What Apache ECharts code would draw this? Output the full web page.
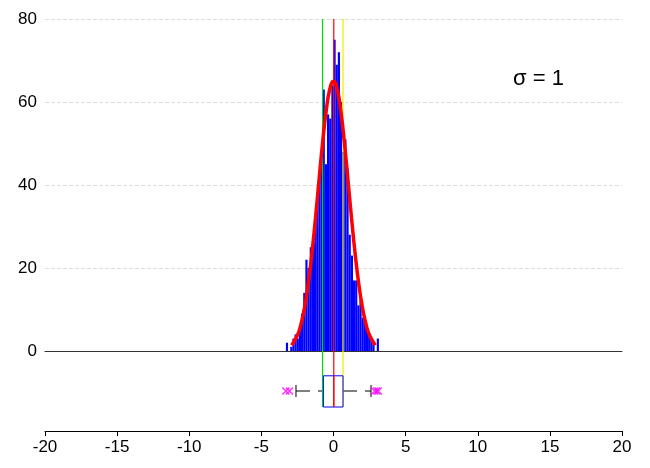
<!DOCTYPE html>
<html><head><meta charset="utf-8">
<script src="https://cdn.jsdelivr.net/npm/echarts@6/dist/echarts.min.js"></script>
<style>html,body{margin:0;background:#fff}#c{width:650px;height:468px}</style></head>
<body><div id="c"></div>
<script>
var binStart = -3.3, binWidth = 0.15;
var counts = [2,0,1,3,4,3,6,9,14,22,20,25,26,31,36,42,48,63,45,57,56,64,75,69,72,60,48,51,44,28,23,17,17,11,13,8,7,5,4,3,2,0,3];
var curveX = [-2.9,-2.5,-2.25,-2,-1.75,-1.5,-1.25,-1,-0.75,-0.5,-0.25,0,0.25,0.5,0.75,1,1.25,1.5,1.75,2,2.25,2.5,2.9];
var curveY = [1.4,3.8,6.5,10.6,16.2,23.4,32,41.3,50.4,58,63.2,65,63.2,58,50.4,41.3,32,23.4,16.2,10.6,6.5,3.8,1.4];
var vlines = [{x:-0.76,color:'#00dd00'},{x:0.02,color:'#ff0000'},{x:0.66,color:'#eeee00'}];
var boxStats = [-2.6,-0.7,0.02,0.66,2.6];
var outliers = [-3.3,-3.05,2.85,3.0,3.1];

var bars = counts.map(function(c,i){return [binStart+i*binWidth, binStart+(i+1)*binWidth, c];});
var curve = curveX.map(function(x,i){return [x,curveY[i]];});
var chart = echarts.init(document.getElementById('c'));
var font = 'Liberation Sans';
chart.setOption({
  animation:false,
  textStyle:{fontFamily:font},
  grid:[{left:45,right:28,top:19,bottom:117},{left:45,right:28,top:351,bottom:37}],
  xAxis:[
    {gridIndex:0,type:'value',min:-20,max:20,interval:5,axisLabel:{show:false},axisTick:{show:false},splitLine:{show:false},axisLine:{lineStyle:{color:'#333'}}},
    {gridIndex:1,type:'value',min:-20,max:20,interval:5,splitLine:{show:false},axisLine:{lineStyle:{color:'#000'}},axisTick:{lineStyle:{color:'#000'},length:5},axisLabel:{color:'#000',fontSize:17,fontFamily:font}}
  ],
  yAxis:[
    {gridIndex:0,type:'value',min:0,max:80,interval:20,axisLine:{show:false},axisTick:{show:false},axisLabel:{color:'#000',fontSize:17,fontFamily:font},splitLine:{lineStyle:{color:'#ddd',type:'dashed'}}},
    {gridIndex:1,type:'value',min:0,max:1,show:false}
  ],
  graphic:[{type:'text',left:513,top:68,style:{text:'σ = 1',fontSize:22,fill:'#000',fontFamily:font}}],
  series:[
    {type:'custom',xAxisIndex:0,yAxisIndex:0,data:bars,renderItem:function(p,api){
      var a=api.coord([api.value(0),api.value(2)]),b=api.coord([api.value(1),0]);
      return {type:'rect',shape:{x:a[0],y:a[1],width:b[0]-a[0],height:b[1]-a[1]},style:{fill:'#0000ff'}};}},
    {type:'line',xAxisIndex:0,yAxisIndex:0,data:curve,smooth:true,showSymbol:false,lineStyle:{color:'#ff0000',width:3.5}},
    {type:'custom',xAxisIndex:0,yAxisIndex:0,data:vlines.map(function(v){return [v.x];}),renderItem:function(p,api){
      var a=api.coord([api.value(0),80]),b=api.coord([api.value(0),0]);
      return {type:'line',shape:{x1:a[0],y1:a[1],x2:b[0],y2:b[1]},style:{stroke:vlines[p.dataIndex].color,lineWidth:1.2}};}},
    {type:'custom',xAxisIndex:1,yAxisIndex:1,data:[boxStats],renderItem:function(p,api){
      var s=[0,1,2,3,4].map(function(i){return api.value(i);});
      var yc=api.coord([0,0.5])[1],yt=api.coord([0,0.69])[1],yb=api.coord([0,0.3])[1];
      var X=function(v){return api.coord([v,0.5])[0];};
      var kids=[
        {type:'line',shape:{x1:X(s[0]),y1:yc,x2:X(s[1]),y2:yc},style:{stroke:'#000',lineWidth:1,lineDash:[14,8]}},
        {type:'line',shape:{x1:X(s[3]),y1:yc,x2:X(s[4]),y2:yc},style:{stroke:'#000',lineWidth:1,lineDash:[14,8]}},
        {type:'line',shape:{x1:X(s[0]),y1:yc-6,x2:X(s[0]),y2:yc+6},style:{stroke:'#000',lineWidth:1}},
        {type:'line',shape:{x1:X(s[4]),y1:yc-6,x2:X(s[4]),y2:yc+6},style:{stroke:'#000',lineWidth:1}}
      ];
      vlines.forEach(function(v){var x=X(v.x);kids.push({type:'line',shape:{x1:x,y1:api.coord([0,1])[1],x2:x,y2:yb},style:{stroke:v.color,lineWidth:1.2}});});
      kids.push({type:'rect',shape:{x:X(s[1]),y:yt,width:X(s[3])-X(s[1]),height:yb-yt},style:{fill:'none',stroke:'#0000ff',lineWidth:1}});
      kids.push({type:'line',shape:{x1:X(s[2]),y1:yt,x2:X(s[2]),y2:yb},style:{stroke:'#ff0000',lineWidth:1.2}});
      return {type:'group',children:kids};}},
    {type:'scatter',xAxisIndex:1,yAxisIndex:1,data:outliers.map(function(x){return [x,0.5];}),symbol:'path://M0,0L10,10M10,0L0,10',symbolSize:7,itemStyle:{color:'none',borderColor:'#ff00ff',borderWidth:1.5}}
  ]
});
</script></body></html>
